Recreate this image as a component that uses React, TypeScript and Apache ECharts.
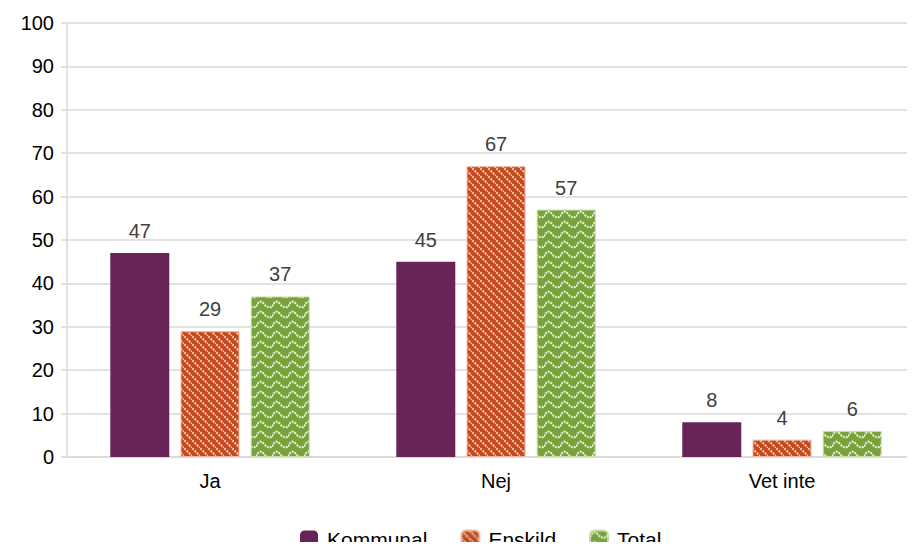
import React, { useEffect, useRef } from "react";
import * as echarts from "echarts";

const categories = ["Ja", "Nej", "Vet inte"];
const kommunal = [47, 45, 8];
const enskild = [29, 67, 4];
const total = [37, 57, 6];
const seriesNames = ["Kommunal", "Enskild", "Total"];

const stripeSvg =
  '<svg xmlns="http://www.w3.org/2000/svg" width="8" height="8">' +
  '<rect width="8" height="8" fill="#C24A1E"/>' +
  '<path d="M-2,-2 L10,10 M-2,6 L2,10 M6,-2 L10,2" stroke="#F0CDBE" stroke-width="2" stroke-dasharray="2,1.2"/>' +
  "</svg>";
const waveSvg =
  '<svg xmlns="http://www.w3.org/2000/svg" width="16" height="10">' +
  '<rect width="16" height="10" fill="#78A23A"/>' +
  '<path d="M0,6.5 C3,0.5 5,0.5 8,4 S13,8 16,6.5" fill="none" stroke="#E4F0D2" stroke-width="2.2" stroke-dasharray="2,1"/>' +
  "</svg>";
const toUrl = (s: string) => "data:image/svg+xml;charset=utf-8," + encodeURIComponent(s);
const FONT = "Liberation Sans, Arial, sans-serif";

export default function App() {
  const ref = useRef<HTMLDivElement>(null);
  useEffect(() => {
    if (!ref.current) return;
    const chart = echarts.init(ref.current, null, { renderer: "svg" });
    const stripe = { image: toUrl(stripeSvg), repeat: "repeat" } as any;
    const wave = { image: toUrl(waveSvg), repeat: "repeat" } as any;
    const label = {
      show: true,
      position: "top",
      distance: 12,
      color: "#404040",
      fontSize: 20,
      fontFamily: FONT,
    };
    chart.setOption({
      animation: false,
      grid: { left: 67, top: 23, bottom: 93, width: 858, outerBoundsMode: "none", containLabel: false },
      legend: {
        top: 529,
        left: 300,
        padding: 0,
        itemWidth: 18,
        itemHeight: 18,
        itemGap: 33,
        textStyle: { fontSize: 21, lineHeight: 20, color: "#000", fontFamily: FONT, padding: [0, 0, 0, 4] },
        data: seriesNames,
      },
      xAxis: {
        type: "category",
        data: categories,
        axisLine: { lineStyle: { color: "#D9D9D9", width: 1.5 } },
        axisTick: { show: false },
        axisLabel: { fontSize: 20, color: "#000", margin: 14, fontFamily: FONT },
      },
      yAxis: {
        type: "value",
        min: 0,
        max: 100,
        interval: 10,
        axisLine: { show: true, lineStyle: { color: "#D9D9D9", width: 1.5 } },
        axisTick: { show: true, length: 6, lineStyle: { color: "#D9D9D9", width: 1.5 } },
        splitLine: { lineStyle: { color: "#D9D9D9", width: 1.5 } },
        axisLabel: { fontSize: 20, color: "#000", margin: 13, fontFamily: FONT },
      },
      series: [
        {
          name: seriesNames[0],
          type: "bar",
          data: kommunal,
          barWidth: 59,
          barGap: "19%",
          itemStyle: { color: "#692457" },
          label,
        },
        {
          name: seriesNames[1],
          type: "bar",
          data: enskild,
          barWidth: 59,
          barGap: "19%",
          itemStyle: { color: stripe, borderColor: "#E8B8A4", borderWidth: 1 },
          label,
        },
        {
          name: seriesNames[2],
          type: "bar",
          data: total,
          barWidth: 59,
          barGap: "19%",
          itemStyle: { color: wave, borderColor: "#C8DDA8", borderWidth: 1 },
          label,
        },
      ],
    });
    return () => chart.dispose();
  }, []);
  return <div ref={ref} style={{ width: 915, height: 550, margin: -8, overflow: "hidden" }} />;
}
